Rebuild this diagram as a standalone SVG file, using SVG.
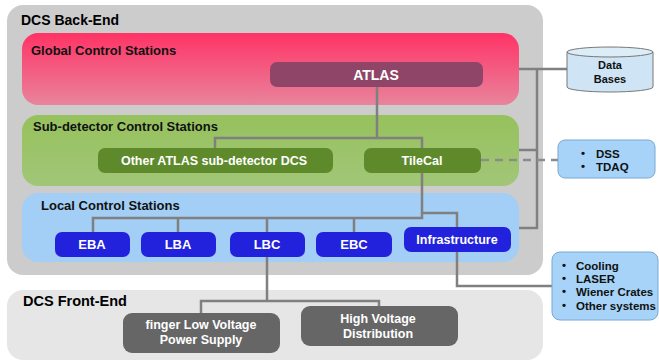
<svg xmlns="http://www.w3.org/2000/svg" width="659" height="362" viewBox="0 0 659 362">
<defs>
<linearGradient id="gGlobal" x1="0" y1="0" x2="0" y2="1">
<stop offset="0" stop-color="#ff3366"/><stop offset="1" stop-color="#e8849c"/>
</linearGradient>
<linearGradient id="gSub" x1="0" y1="0" x2="0" y2="1">
<stop offset="0" stop-color="#96c15c"/><stop offset="1" stop-color="#a2c678"/>
</linearGradient>
<style>
text{font-family:"Liberation Sans",Arial,sans-serif;font-weight:bold}
.hb{font-size:14px;fill:#000}
.hf{font-size:14.5px;fill:#000}
.k{font-size:13px;fill:#111}
.s{font-size:11.5px;fill:#111}
.d{font-size:11px;fill:#111;text-anchor:middle}
.w{font-size:13px;fill:#fff;text-anchor:middle}
.w14{font-size:14px;fill:#fff;text-anchor:middle}
.w125{font-size:12.5px;fill:#fff;text-anchor:middle}
.c{fill:none;stroke:#808080;stroke-width:2.5}
.blue{fill:#2222dd}
.green{fill:#5e8a2c}
.side{fill:#a6d3f7;stroke:#7aa8d0;stroke-width:1}
</style>
</defs>
<g id="backend">
<rect x="7" y="5" width="536" height="270" rx="16" fill="#cccccc"/>
<text class="hb" x="21" y="25">DCS Back-End</text>
</g>
<g id="frontend">
<rect x="7" y="290" width="536" height="70" rx="16" fill="#e6e6e6"/>
<text class="hf" x="23" y="306">DCS Front-End</text>
</g>
<g id="global">
<rect x="22" y="33" width="497" height="72" rx="16" fill="url(#gGlobal)"/>
<text class="k" x="31" y="55">Global Control Stations</text>
</g>
<g id="subdetector">
<rect x="22" y="115" width="497" height="71" rx="16" fill="url(#gSub)"/>
<text class="k" x="33" y="131">Sub-detector Control Stations</text>
</g>
<g id="local">
<rect x="22" y="193" width="497" height="69" rx="16" fill="#a3cef5"/>
<text class="k" x="41" y="210">Local Control Stations</text>
</g>
<g id="connectors">
<path class="c" d="M377 87V138M215 148V138H422V148M422 173V218H93V232M178 218V232M267 218V232M354 218V232M422 213H457V227"/>
<path class="c" d="M457 252V286H552"/>
<path class="c" d="M267 257V301H201V313M267 301H379V306"/>
<path class="c" d="M519 69H567M537 69V228H519M519 150H537"/>
<path d="M481 160H558" fill="none" stroke="#8c8c8c" stroke-width="2.5" stroke-dasharray="8,6"/>
</g>
<g id="atlas">
<rect x="270" y="62" width="213" height="25" rx="7" fill="#8f4568"/>
<text class="w14" x="376" y="80">ATLAS</text>
</g>
<g id="other">
<rect x="98" y="148" width="235" height="25" rx="7" class="green"/>
<text class="w125" x="214" y="165">Other ATLAS sub-detector DCS</text>
</g>
<g id="tilecal">
<rect x="364" y="148" width="117" height="25" rx="7" class="green"/>
<text class="w125" x="422" y="165">TileCal</text>
</g>
<g id="eba"><rect x="55" y="232" width="75" height="25" rx="7" class="blue"/><text class="w" x="92" y="249">EBA</text></g>
<g id="lba"><rect x="141" y="232" width="75" height="25" rx="7" class="blue"/><text class="w" x="178" y="249">LBA</text></g>
<g id="lbc"><rect x="230" y="232" width="75" height="25" rx="7" class="blue"/><text class="w" x="267" y="249">LBC</text></g>
<g id="ebc"><rect x="316" y="232" width="76" height="25" rx="7" class="blue"/><text class="w" x="354" y="249">EBC</text></g>
<g id="infrastructure"><rect x="404" y="227" width="107" height="25" rx="7" class="blue"/><text class="w125" x="457" y="244">Infrastructure</text></g>
<g id="lvps">
<rect x="123" y="313" width="157" height="40" rx="9" fill="#666666"/>
<text class="w125" x="201" y="329">finger Low Voltage</text>
<text class="w125" x="201" y="344">Power Supply</text>
</g>
<g id="hv">
<rect x="301" y="306" width="157" height="40" rx="9" fill="#666666"/>
<text class="w125" x="378" y="323">High Voltage</text>
<text class="w125" x="378" y="338">Distribution</text>
</g>
<g id="databases">
<path d="M567 52V87A43 5 0 0 0 653 87V52" fill="#cfe5f5" stroke="#777" stroke-width="1"/>
<ellipse cx="610" cy="52" rx="43" ry="5" fill="#dcedf8" stroke="#777" stroke-width="1"/>
<text class="d" x="610" y="69">Data</text>
<text class="d" x="610" y="83">Bases</text>
</g>
<g id="dsstdaq">
<rect x="558" y="140" width="97" height="38" rx="7" class="side"/>
<text class="s"><tspan x="581" y="157">•</tspan><tspan x="596" y="158">DSS</tspan></text>
<text class="s"><tspan x="581" y="170">•</tspan><tspan x="596" y="171">TDAQ</tspan></text>
</g>
<g id="systems">
<rect x="552" y="252" width="106" height="68" rx="8" class="side"/>
<text class="s"><tspan x="562" y="269">•</tspan><tspan x="576" y="270">Cooling</tspan></text>
<text class="s"><tspan x="562" y="282">•</tspan><tspan x="576" y="283">LASER</tspan></text>
<text class="s"><tspan x="562" y="295">•</tspan><tspan x="576" y="296">Wiener Crates</tspan></text>
<text class="s"><tspan x="562" y="309">•</tspan><tspan x="576" y="310">Other systems</tspan></text>
</g>
</svg>
